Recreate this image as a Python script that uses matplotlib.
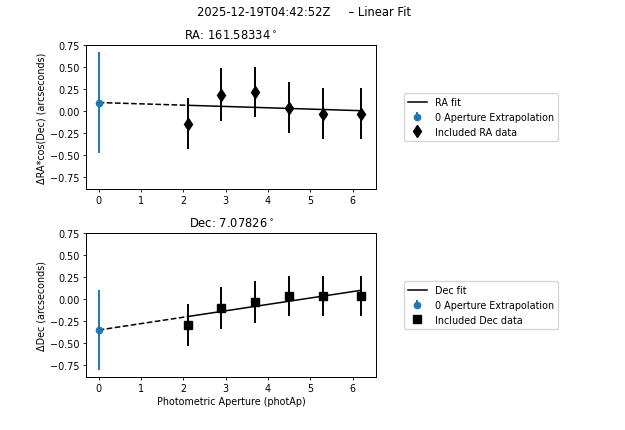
import matplotlib
matplotlib.use('Agg')
import matplotlib.pyplot as plt
import numpy as np

# Observation / header text
OBS_TIME = '2025-12-19T04:42:52Z'
RA_DEG = 161.58334
DEC_DEG = 7.07826

# Photometric apertures used in the fit
aperture = [2.1, 2.9, 3.7, 4.5, 5.3, 6.2]

# RA offsets (arcsec) and uncertainties
ra_offset = [-0.14, 0.19, 0.22, 0.04, -0.03, -0.03]
ra_err = [0.29, 0.30, 0.29, 0.29, 0.29, 0.29]
ra_fit = (-0.015, 0.10)        # slope, intercept
ra_zero_err = 0.57

# Dec offsets (arcsec) and uncertainties
dec_offset = [-0.29, -0.10, -0.03, 0.04, 0.04, 0.04]
dec_err = [0.24, 0.24, 0.24, 0.23, 0.23, 0.23]
dec_fit = (0.073, -0.35)
dec_zero_err = 0.46

y_ticks = [-0.75, -0.5, -0.25, 0.0, 0.25, 0.5, 0.75]


def plot_panel(ax, x, y, yerr, fit, zero_err, marker, name, title, ylabel):
    """
    Draw data, linear fit and the zero-aperture extrapolation on one axis.
    """
    slope, intercept = fit
    x_fit = np.array([x[0], x[-1]])
    ax.plot(x_fit, slope * x_fit + intercept, 'k-', lw=1.1, label=f'{name} fit')
    x_ext = np.array([0, x[0]])
    ax.plot(x_ext, slope * x_ext + intercept, 'k--', lw=1.1)
    ax.errorbar([0], [intercept], yerr=[zero_err], fmt='o', color='#1f77b4',
                ms=4.5, elinewidth=1.4, label='0 Aperture Extrapolation')
    ax.errorbar(x, y, yerr=yerr, fmt=marker, color='k', ms=6,
                elinewidth=1.4, label=f'Included {name} data')
    ax.set_xlim(-0.3, 6.55)
    ax.set_ylim(-0.885, 0.755)
    ax.set_yticks(y_ticks)
    ax.set_title(title, fontsize=8.3, pad=4)
    ax.set_ylabel(ylabel, fontsize=6.9, labelpad=3)
    ax.tick_params(labelsize=6.9, length=2.5, width=0.6, pad=2)
    for s in ax.spines.values():
        s.set_linewidth(0.7)
    ax.legend(loc='center left', bbox_to_anchor=(1.08, 0.5), fontsize=6.9)


def main():
    fig = plt.figure(figsize=(6.25, 4.31), dpi=100)
    fig.suptitle(f'{OBS_TIME}     \u2013 Linear Fit', fontsize=8.3, x=0.487, y=0.985)

    ax1 = fig.add_axes([0.1376, 0.5592, 0.464, 0.334])
    plot_panel(ax1, aperture, ra_offset, ra_err, ra_fit, ra_zero_err, 'd', 'RA',
               f'RA: {RA_DEG:.5f}$^\\circ$', '\u0394RA*cos(Dec) (arcseconds)')

    ax2 = fig.add_axes([0.1376, 0.1230, 0.464, 0.334])
    plot_panel(ax2, aperture, dec_offset, dec_err, dec_fit, dec_zero_err, 's', 'Dec',
               f'Dec: {DEC_DEG:.5f}$^\\circ$', '\u0394Dec (arcseconds)')
    ax2.set_xlabel('Photometric Aperture (photAp)', fontsize=6.9, labelpad=2)

    fig.savefig('out.png', dpi=100)


if __name__ == '__main__':
    main()
